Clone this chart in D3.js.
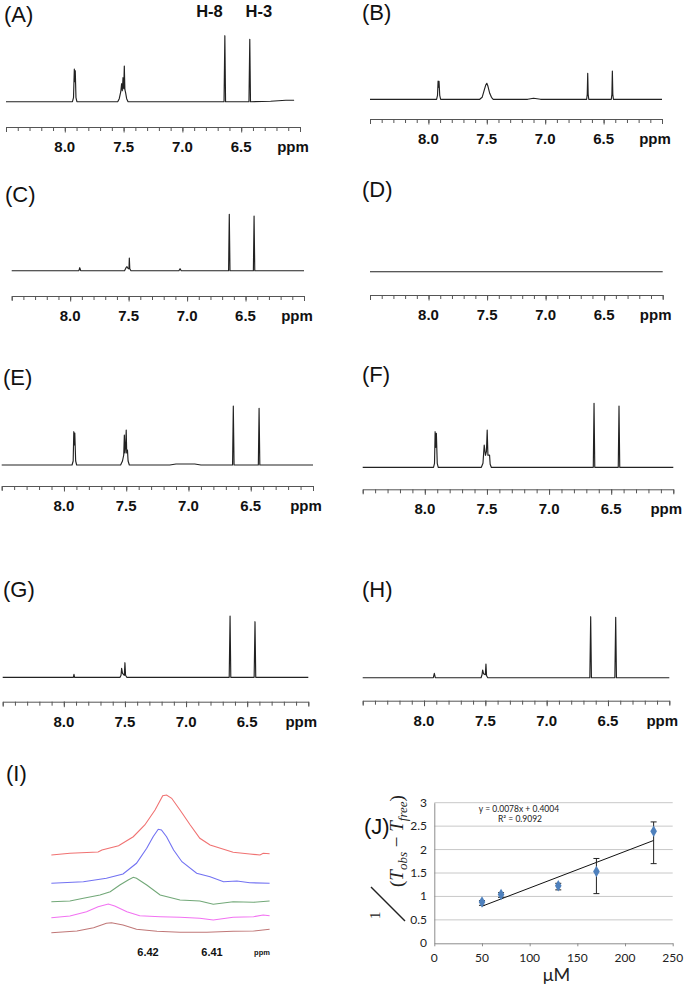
<!DOCTYPE html>
<html><head><meta charset="utf-8">
<script src="https://cdn.jsdelivr.net/npm/d3@7/dist/d3.min.js"></script>
<style>body{margin:0;background:#fff}svg{display:block}</style>
</head><body>
<svg id="c" width="685" height="985"></svg>
<script>
// ---------------- DATA ----------------
const ppmDomain = [8.5, 6.0];
const ppmMajor = [8.0, 7.5, 7.0, 6.5];
const ppmMajorLabels = ["8.0", "7.5", "7.0", "6.5"];
const ppmMinor = [8.5,8.4,8.3,8.2,8.1,8.0,7.9,7.8,7.7,7.6,7.5,7.4,7.3,7.2,7.1,7.0,6.9,6.8,6.7,6.6,6.5,6.4,6.3,6.2,6.1,6.0];
const panelNames = ["(A)","(B)","(C)","(D)","(E)","(F)","(G)","(H)","(I)","(J)"];
const peakNames = ["H-8","H-3"];
const peakNameAnchorPpm = [6.77, 6.35];

// spectra: [ppm, intensity]
const specA = [[8.5,0],[7.935,0],[7.926,4],[7.919,32.7],[7.915,20],[7.911,31],[7.905,4],[7.897,0],
  [7.55,0],[7.537,3],[7.524,10],[7.517,18],[7.511,11],[7.505,24],[7.499,13],[7.494,35.7],[7.489,12],[7.483,9],[7.474,3],[7.462,0],
  [6.646,0],[6.639,66],[6.633,0],[6.434,0],[6.427,62.4],[6.421,0],[6.25,0.5],[6.12,1.5],[6.05,1.5]];
const specB = [[8.5,0],[7.93,0],[7.922,4],[7.917,18.3],[7.913,12],[7.909,18],[7.903,4],[7.895,0],
  [7.56,0],[7.54,2],[7.525,8],[7.51,14],[7.5,16],[7.49,13],[7.475,6],[7.46,2],[7.445,0],
  [7.15,0],[7.1,1],[7.04,0],
  [6.645,0],[6.64,5],[6.636,26],[6.632,5],[6.627,0],[6.434,0],[6.429,5],[6.425,28.3],[6.421,5],[6.416,0],[6.0,0]];
const specC = [[8.5,0],[7.925,0],[7.918,3],[7.91,0],[7.535,0],[7.522,3],[7.514,4],[7.503,2],[7.497,2],[7.494,12.7],[7.49,2],[7.48,0],
  [7.07,0],[7.06,2],[7.05,0],
  [6.645,0],[6.639,56.4],[6.633,0],[6.433,0],[6.427,54.7],[6.421,0],[6.0,0]];
const specD = [[8.5,0],[6.0,0]];
const specE = [[8.5,0],[7.935,0],[7.926,4],[7.921,33.3],[7.917,20],[7.913,32],[7.906,4],[7.898,0],
  [7.545,0],[7.53,4],[7.52,10],[7.515,30],[7.51,12],[7.505,18],[7.5,35],[7.496,12],[7.49,15],[7.485,4],[7.475,0],
  [7.15,0],[7.1,1],[6.95,1],[6.9,0],
  [6.646,0],[6.64,59],[6.634,0],[6.439,0],[6.433,56.7],[6.427,0],[6.0,0]];
const specF = [[8.5,0],[7.93,0],[7.922,4],[7.917,35.6],[7.912,20],[7.907,34],[7.9,4],[7.892,0],
  [7.545,0],[7.532,4],[7.522,22.3],[7.512,12],[7.504,16],[7.498,37.3],[7.492,12],[7.479,12.3],[7.474,3],[7.465,0],
  [6.644,0],[6.638,64],[6.632,0],[6.443,0],[6.437,61.3],[6.431,0],[6.0,0]];
const specG = [[8.5,0],[7.922,0],[7.917,3],[7.912,0],[7.54,0],[7.532,2],[7.527,9],[7.52,4],[7.505,2],[7.5,14.6],[7.495,2],[7.485,0],
  [6.647,0],[6.64,61.3],[6.634,0],[6.443,0],[6.436,55.6],[6.43,0],[6.0,0]];
const specH = [[8.5,0],[7.924,0],[7.916,4.4],[7.908,0],[7.535,0],[7.527,3],[7.522,7.7],[7.515,4],[7.5,3],[7.495,13.7],[7.49,2],[7.48,0],
  [6.648,0],[6.641,61],[6.635,0],[6.444,0],[6.437,60.4],[6.431,0],[6.0,0]];

// panel I: zoomed H-3 region, 5 stacked traces (ppm, intensity)
const iTicks = [6.42, 6.41];
const iTickLabels = ["6.42", "6.41"];
const iColors = ["#f07272", "#7272f2", "#72a878", "#f272f2", "#c07878"];
const traceRed = [[6.4351,80],[6.4322,81.7],[6.4278,83],[6.4272,85],[6.4246,89.3],[6.4223,98.3],[6.4205,110],[6.4189,125],[6.4177,139.3],[6.4171,140],[6.4163,136.7],[6.4150,125],[6.4134,110],[6.4119,96.7],[6.4103,90],[6.4067,82.7],[6.4041,81],[6.4025,80],[6.4020,81.7],[6.4010,81.3]];
const traceBlue = [[6.4351,51.7],[6.4301,53.3],[6.4265,56.7],[6.4239,61],[6.4218,71.7],[6.4202,86.7],[6.4192,98.3],[6.4184,105.7],[6.4179,105],[6.4171,98.3],[6.4160,85],[6.4147,73.3],[6.4124,61.7],[6.4103,58.3],[6.4082,53.3],[6.4061,54],[6.4041,52.3],[6.4010,51.7]];
const traceGreen = [[6.4351,33.3],[6.4322,34],[6.4301,36.7],[6.4275,40],[6.4259,43.3],[6.4244,50],[6.4231,55],[6.4223,57.7],[6.4218,56.7],[6.4202,50],[6.4181,40],[6.4150,35],[6.4119,34],[6.4098,30.7],[6.4067,33.3],[6.4035,32.7],[6.4010,34]];
const traceMagenta = [[6.4351,17.3],[6.4322,19],[6.4296,23.3],[6.4278,28.3],[6.4262,31],[6.4252,29],[6.4233,23.3],[6.4213,19.3],[6.4181,18.3],[6.4150,17.7],[6.4119,16.7],[6.4098,15],[6.4067,17.7],[6.4035,18.3],[6.4020,20],[6.4010,19.3]];
const traceBrown = [[6.4351,2.3],[6.4311,4],[6.4285,7.3],[6.4265,11.7],[6.4257,12.3],[6.4239,10],[6.4218,5.7],[6.4186,3.7],[6.4150,2.7],[6.4108,2.7],[6.4067,3.7],[6.4035,4],[6.4010,5.7]];

// panel J: 1/(Tobs - Tfree) vs concentration
const jConc = [50, 70, 130, 170, 230];
const jVal = [0.88, 1.04, 1.23, 1.53, 2.39];
const jErrLow = [0.07, 0.06, 0.09, 0.47, 0.69];
const jErrHigh = [0.03, 0.04, 0.05, 0.28, 0.20];
const jXTicks = [0, 50, 100, 150, 200, 250];
const jYTicks = [0, 0.5, 1, 1.5, 2, 2.5, 3];
const jYTickLabels = ["0", "0.5", "1", "1.5", "2", "2.5", "3"];
const jFit = {slope: 0.0078, intercept: 0.4004, r2: "0.9092", from: 50, to: 230};

// ---------------- LAYOUT ----------------
const svg = d3.select("#c");
const NMRFONT = "'Liberation Sans', Arial, sans-serif";
const spectra = [specA, specB, specC, specD, specE, specF, specG, specH];
const layout = [
  {x0:6,    x1:300,   base:101.7, axis:127,   lx:4,   ly:22},
  {x0:370,  x1:662,   base:99.3,  axis:119,   lx:362, ly:20},
  {x0:11.7, x1:304,   base:270.7, axis:296,   lx:5,   ly:202},
  {x0:370,  x1:662.7, base:271.7, axis:295,   lx:362, ly:197},
  {x0:1.7,  x1:313,   base:465,   axis:486,   lx:3,   ly:385},
  {x0:362.7,x1:673.3, base:467.3, axis:489.3, lx:362, ly:382},
  {x0:2.7,  x1:308.3, base:677.3, axis:701.7, lx:3,   ly:597},
  {x0:362.7,x1:669.3, base:677.7, axis:700.7, lx:362, ly:597}
];

spectra.forEach((spec, i) => {
  const L = layout[i];
  const g = svg.append("g");
  const x = d3.scaleLinear().domain(ppmDomain).range([L.x0, L.x1]);
  const y = d3.scaleLinear().domain([0, 70]).range([L.base, L.base - 70]);
  g.append("path").datum(spec)
    .attr("d", d3.line().x(d => x(d[0])).y(d => y(d[1])))
    .attr("fill", "none").attr("stroke", "#222").attr("stroke-width", 1.15)
    .attr("stroke-linejoin", "round");
  // axis
  const ax = g.append("g").attr("transform", `translate(0,${L.axis})`);
  ax.call(d3.axisBottom(x).tickValues(ppmMinor).tickSize(4).tickSizeOuter(5).tickFormat(""));
  ax.selectAll("path,line").attr("stroke", "#555").attr("stroke-width", 1);
  const ax2 = g.append("g").attr("transform", `translate(0,${L.axis})`);
  ax2.call(d3.axisBottom(x).tickValues(ppmMajor).tickSize(5.5).tickSizeOuter(0).tickFormat(""));
  ax2.select(".domain").remove();
  ax2.selectAll("line").attr("stroke", "#555");
  g.selectAll("text.tl").data(ppmMajor).enter().append("text")
    .attr("x", d => x(d)).attr("y", L.axis + 25)
    .attr("text-anchor", "middle").attr("font-family", NMRFONT)
    .attr("font-weight", "bold").attr("font-size", 15).attr("fill", "#111")
    .text((d, k) => ppmMajorLabels[k]);
  g.append("text").attr("x", L.x1 - 7).attr("y", L.axis + 25)
    .attr("text-anchor", "middle").attr("font-family", NMRFONT)
    .attr("font-weight", "bold").attr("font-size", 15).attr("fill", "#111").text("ppm");
  g.append("text").attr("x", L.lx).attr("y", L.ly)
    .attr("font-family", NMRFONT).attr("font-size", 22).attr("fill", "#111").text(panelNames[i]);
  if (i === 0) {
    g.selectAll("text.pk").data(peakNames).enter().append("text")
      .attr("x", (d, k) => x(peakNameAnchorPpm[k])).attr("y", 17)
      .attr("text-anchor", "middle").attr("font-family", NMRFONT)
      .attr("font-weight", "bold").attr("font-size", 16.5).attr("fill", "#111").text(d => d);
  }
});

// ---------------- PANEL I ----------------
{
  const g = svg.append("g");
  const x = d3.scaleLinear().domain(iTicks).range([148, 212]);
  const y = d3.scaleLinear().domain([0, 150]).range([935, 785]);
  const traces = [traceRed, traceBlue, traceGreen, traceMagenta, traceBrown];
  traces.forEach((t, k) => {
    g.append("path").datum(t)
      .attr("d", d3.line().x(d => x(d[0])).y(d => y(d[1])))
      .attr("fill", "none").attr("stroke", iColors[k]).attr("stroke-width", 1.1);
  });
  g.selectAll("text.it").data(iTicks).enter().append("text")
    .attr("x", d => x(d)).attr("y", 956).attr("text-anchor", "middle")
    .attr("font-family", NMRFONT).attr("font-weight", "bold").attr("font-size", 11).attr("fill", "#111")
    .text((d, k) => iTickLabels[k]);
  g.append("text").attr("x", 262).attr("y", 955).attr("text-anchor", "middle")
    .attr("font-family", NMRFONT).attr("font-weight", "bold").attr("font-size", 7.5).attr("fill", "#111").text("ppm");
  g.append("text").attr("x", 6).attr("y", 781)
    .attr("font-family", NMRFONT).attr("font-size", 22).attr("fill", "#111").text(panelNames[8]);
}

// ---------------- PANEL J ----------------
{
  const g = svg.append("g");
  const JF = "Lato, 'Liberation Sans', sans-serif";
  const x = d3.scaleLinear().domain([0, 250]).range([434.3, 672.7]);
  const y = d3.scaleLinear().domain([0, 3]).range([943.3, 802.7]);
  // gridlines
  g.selectAll("line.grid").data(jYTicks.slice(1)).enter().append("line")
    .attr("x1", x(0)).attr("x2", x(250)).attr("y1", d => y(d)).attr("y2", d => y(d))
    .attr("stroke", "#c8c8c8").attr("stroke-width", 1);
  // axes
  const xa = g.append("g").attr("transform", `translate(0,${y(0)})`)
    .call(d3.axisBottom(x).tickValues(jXTicks).tickSize(3).tickSizeOuter(0).tickFormat(""));
  xa.selectAll("path,line").attr("stroke", "#8c8c8c");
  const ya = g.append("g").attr("transform", `translate(${x(0)},0)`)
    .call(d3.axisLeft(y).tickValues(jYTicks).tickSize(0).tickSizeOuter(0).tickFormat(""));
  ya.selectAll("path,line").attr("stroke", "#8c8c8c");
  g.selectAll("text.xt").data(jXTicks).enter().append("text")
    .attr("x", d => x(d)).attr("y", 962).attr("text-anchor", "middle")
    .attr("font-family", JF).attr("font-size", 12).attr("fill", "#222").text(d => d);
  g.selectAll("text.yt").data(jYTicks).enter().append("text")
    .attr("x", 427).attr("y", d => y(d) + 4).attr("text-anchor", "end")
    .attr("font-family", JF).attr("font-size", 12).attr("fill", "#222").text((d, k) => jYTickLabels[k]);
  // trend line
  g.append("line")
    .attr("x1", x(jFit.from)).attr("y1", y(jFit.slope * jFit.from + jFit.intercept))
    .attr("x2", x(jFit.to)).attr("y2", y(jFit.slope * jFit.to + jFit.intercept))
    .attr("stroke", "#111").attr("stroke-width", 1);
  // error bars
  jConc.forEach((c, k) => {
    const cx = x(c), top = y(jVal[k] + jErrHigh[k]), bot = y(jVal[k] - jErrLow[k]);
    g.append("line").attr("x1", cx).attr("x2", cx).attr("y1", top).attr("y2", bot).attr("stroke", "#222");
    g.append("line").attr("x1", cx - 3).attr("x2", cx + 3).attr("y1", top).attr("y2", top).attr("stroke", "#222");
    g.append("line").attr("x1", cx - 3).attr("x2", cx + 3).attr("y1", bot).attr("y2", bot).attr("stroke", "#222");
  });
  // markers
  g.selectAll("path.pt").data(jConc).enter().append("path")
    .attr("d", d3.symbol().type(d3.symbolDiamond).size(38))
    .attr("transform", (d, k) => `translate(${x(d)},${y(jVal[k])})`)
    .attr("fill", "#4f81bd");
  // equation
  g.append("text").attr("x", 519).attr("y", 812).attr("text-anchor", "middle")
    .attr("font-family", JF).attr("font-size", 8.5).attr("fill", "#222")
    .text(`y = ${jFit.slope}x + ${jFit.intercept}`);
  g.append("text").attr("x", 520).attr("y", 822).attr("text-anchor", "middle")
    .attr("font-family", JF).attr("font-size", 8.5).attr("fill", "#222").text("R² = " + jFit.r2);
  // x label
  g.append("text").attr("x", 556.5).attr("y", 981).attr("text-anchor", "middle")
    .attr("font-family", JF).attr("font-size", 18).attr("fill", "#222").text("μM");
  // y label (rotated formula)
  const yl = g.append("g").attr("transform", "translate(403,920) rotate(-90)");
  yl.append("text").attr("x", 1).attr("y", -23)
    .attr("font-family", "'Liberation Serif', serif").attr("font-size", 15).attr("fill", "#222").text("1");
  yl.append("line").attr("x1", -1).attr("y1", 2).attr("x2", 33).attr("y2", -32)
    .attr("stroke", "#222").attr("stroke-width", 1.4);
  const t = yl.append("text").attr("x", 33).attr("y", 0)
    .attr("font-family", "'Liberation Serif', serif").attr("font-size", 19).attr("fill", "#222");
  t.append("tspan").text("(");
  t.append("tspan").attr("font-style", "italic").text("T");
  t.append("tspan").attr("font-style", "italic").attr("font-size", 13).attr("dy", 4).text("obs");
  t.append("tspan").attr("dy", -4).text(" − ");
  t.append("tspan").attr("font-style", "italic").text("T");
  t.append("tspan").attr("font-style", "italic").attr("font-size", 13).attr("dy", 4).text("free");
  t.append("tspan").attr("dy", -4).text(")");
  g.append("text").attr("x", 364).attr("y", 834)
    .attr("font-family", NMRFONT).attr("font-size", 22).attr("fill", "#111").text(panelNames[9]);
}
</script>
</body></html>
